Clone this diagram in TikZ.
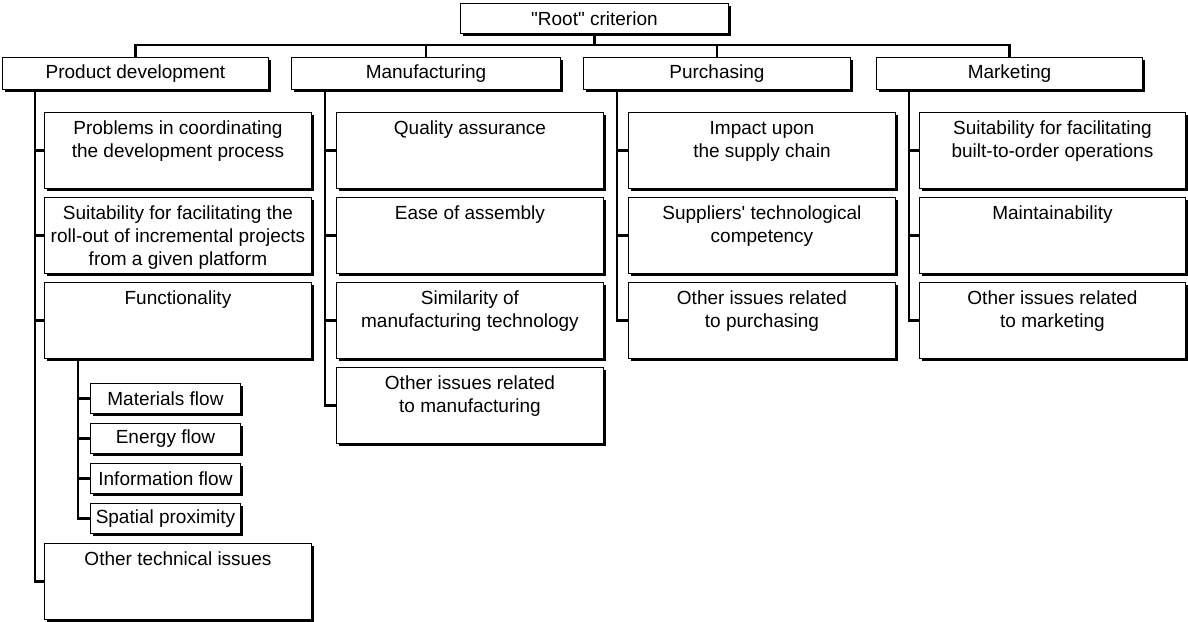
\documentclass[tikz,border=0pt]{standalone}
\usepackage{fontspec}
\setmainfont{Liberation Sans}[Ligatures=TeXOff]
\usetikzlibrary{shadows}
\tikzset{
  box/.style={draw, line width=0.9pt, fill=white, inner sep=0pt, anchor=north west,
    drop shadow={shadow xshift=2.4pt, shadow yshift=-2.4pt, opacity=1, fill=black}},
  link/.style={line width=2.1pt},
}
\newcommand\topbox[3]{\parbox[c][#2][t]{#1}{\centering\vspace*{5.9pt}\strut #3}}
\newcommand\headbox[3]{\parbox[c][#2][t]{#1}{\centering\vspace*{4.9pt}\strut #3}}
\newcommand\midbox[3]{\parbox[c][#2][c]{#1}{\centering #3}}
\begin{document}
\begin{tikzpicture}[x=1pt,y=-1pt,every node/.style={font=\fontsize{19}{23}\selectfont}]
\useasboundingbox (0,0) rectangle (1188,621);
% root
\node[box] (root) at (460,3) {\midbox{268pt}{30pt}{"Root" criterion}};
% level 1
\node[box] (pd)  at (2,57)   {\headbox{266pt}{32pt}{Product development}};
\node[box] (mfg) at (291,57) {\headbox{269pt}{32pt}{Manufacturing}};
\node[box] (pur) at (583,57) {\headbox{267pt}{32pt}{Purchasing}};
\node[box] (mkt) at (876,57) {\headbox{266pt}{32pt}{Marketing}};
% product development children
\node[box] (pd1) at (44,112) {\topbox{267pt}{76pt}{Problems in coordinating\\the development process}};
\node[box] (pd2) at (44,197) {\topbox{267pt}{76pt}{Suitability for facilitating the\\roll-out of incremental projects\\from a given platform}};
\node[box] (pd3) at (44,282) {\topbox{267pt}{76pt}{Functionality}};
\node[box] (pd4) at (44,543) {\topbox{267pt}{76pt}{Other technical issues}};
% functionality sub-items
\node[box] (f1) at (90,383) {\midbox{150pt}{30pt}{Materials flow}};
\node[box] (f2) at (90,423) {\midbox{150pt}{30pt}{Energy flow}};
\node[box] (f3) at (90,463) {\midbox{150pt}{30pt}{Information flow}};
\node[box] (f4) at (90,503) {\midbox{150pt}{30pt}{Spatial proximity}};
% manufacturing children
\node[box] (m1) at (336,112) {\topbox{267pt}{76pt}{Quality assurance}};
\node[box] (m2) at (336,197) {\topbox{267pt}{76pt}{Ease of assembly}};
\node[box] (m3) at (336,282) {\topbox{267pt}{76pt}{Similarity of\\manufacturing technology}};
\node[box] (m4) at (336,367) {\topbox{267pt}{76pt}{Other issues related\\to manufacturing}};
% purchasing children
\node[box] (p1) at (628,112) {\topbox{267pt}{76pt}{Impact upon\\the supply chain}};
\node[box] (p2) at (628,197) {\topbox{267pt}{76pt}{Suppliers' technological\\competency}};
\node[box] (p3) at (628,282) {\topbox{267pt}{76pt}{Other issues related\\to purchasing}};
% marketing children
\node[box] (k1) at (919,112) {\topbox{266pt}{76pt}{Suitability for facilitating\\built-to-order operations}};
\node[box] (k2) at (919,197) {\topbox{266pt}{76pt}{Maintainability}};
\node[box] (k3) at (919,282) {\topbox{266pt}{76pt}{Other issues related\\to marketing}};
% top connectors
\coordinate (bar) at (0,45);
\draw[link] (root.south) -- (root.south |- bar);
\draw[link,line cap=rect] (pd.north |- bar) -- (mkt.north |- bar);
\foreach \n in {pd,mfg,pur,mkt} \draw[link] (\n.north |- bar) -- (\n.north);
% spines
\coordinate (spd) at (35,0);
\coordinate (smf) at (325,0);
\coordinate (spu) at (617,0);
\coordinate (smk) at (909,0);
\coordinate (sfn) at (78,0);
\draw[link] (pd.south -| spd) |- (pd4.west);
\foreach \c in {pd1,pd2,pd3} \draw[link] (\c.west -| spd) -- (\c.west);
\draw[link] (mfg.south -| smf) |- (m4.west);
\foreach \c in {m1,m2,m3} \draw[link] (\c.west -| smf) -- (\c.west);
\draw[link] (pur.south -| spu) |- (p3.west);
\foreach \c in {p1,p2} \draw[link] (\c.west -| spu) -- (\c.west);
\draw[link] (mkt.south -| smk) |- (k3.west);
\foreach \c in {k1,k2} \draw[link] (\c.west -| smk) -- (\c.west);
\draw[link] (pd3.south -| sfn) |- (f4.west);
\foreach \c in {f1,f2,f3} \draw[link] (\c.west -| sfn) -- (\c.west);
\end{tikzpicture}
\end{document}
